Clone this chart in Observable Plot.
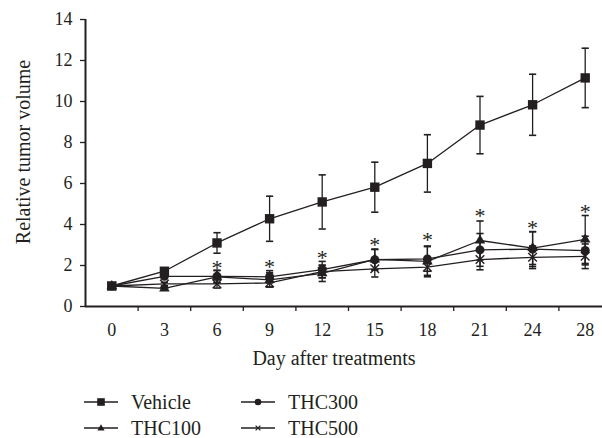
<!DOCTYPE html>
<html><head><meta charset="utf-8">
<script src="https://cdn.jsdelivr.net/npm/d3@7"></script>
<script src="https://cdn.jsdelivr.net/npm/@observablehq/plot@0.6"></script>
<style>
body{margin:0;background:#fff;}
#wrap{position:relative;width:602px;height:438px;font-family:"Liberation Serif","Times New Roman",serif;color:#231f20;}
.item{position:absolute;display:flex;align-items:center;font-size:20px;height:16px;line-height:16px;white-space:nowrap;}
.item svg{margin-right:13px;}
</style></head><body>
<div id="wrap"><div id="chart"></div><div id="legend"></div></div>
<script>
// ---- data ----
const days = ["0","3","6","9","12","15","18","21","24","28"];
const yTicks = [0,2,4,6,8,10,12,14];
const seriesNames = ["Vehicle","THC100","THC300","THC500"];
const vehicle    = [1.0, 1.72, 3.10, 4.28, 5.10, 5.82, 6.98, 8.85, 9.84, 11.15];
const vehicleErr = [0,   0.12, 0.50, 1.10, 1.32, 1.22, 1.40, 1.40, 1.49, 1.45];
const thc100     = [1.0, 0.88, 1.45, 1.30, 1.62, 2.30, 2.20, 3.22, 2.85, 3.27];
const thc100Err  = [0,   0.08, 0.30, 0.35, 0.40, 0.50, 0.75, 0.95, 0.80, 1.17];
const thc300     = [1.0, 1.47, 1.47, 1.45, 1.80, 2.28, 2.32, 2.76, 2.80, 2.73];
const thc300Err  = [0,   0.10, 0.30, 0.30, 0.40, 0.50, 0.60, 0.80, 0.85, 0.70];
const thc500     = [1.0, 1.10, 1.10, 1.15, 1.70, 1.84, 1.92, 2.29, 2.40, 2.45];
const thc500Err  = [0,   0.08, 0.20, 0.20, 0.30, 0.40, 0.40, 0.50, 0.55, 0.60];
const starY      = [null, null, 2.10, 2.16, 2.60, 3.27, 3.50, 4.68, 4.06, 4.84];

const ink = "#231f20";
const symbols = {Vehicle: "square", THC100: "triangle", THC300: "circle", THC500: "times"};
const sizes   = {Vehicle: 5.3, THC100: 3.9, THC300: 4.5, THC500: 4.0};

function rows(name, vals, errs) {
  return vals.map((v, i) => ({name, i, v, lo: v - errs[i], hi: v + errs[i], e: errs[i]}));
}
const all = {
  Vehicle: rows("Vehicle", vehicle, vehicleErr),
  THC100: rows("THC100", thc100, thc100Err),
  THC300: rows("THC300", thc300, thc300Err),
  THC500: rows("THC500", thc500, thc500Err)
};
const flat = seriesNames.flatMap(n => all[n]);
const withErr = flat.filter(d => d.e > 0);
const stars = starY.map((y, i) => ({i, y})).filter(d => d.y != null);
const idx = days.map((d, i) => i);
const bounds = d3.range(0.5, days.length - 1, 1);

// horizontal cap symbol for error bars
const cap = {draw(ctx, size) { const w = Math.sqrt(size / Math.PI); ctx.moveTo(-w, 0); ctx.lineTo(w, 0); }};

const marks = [
  Plot.ruleX(withErr, {x: "i", y1: "lo", y2: "hi", stroke: ink, strokeWidth: 1.3}),
  Plot.dot(withErr, {x: "i", y: "lo", symbol: cap, r: 3.6, fill: "none", stroke: ink, strokeWidth: 1.6}),
  Plot.dot(withErr, {x: "i", y: "hi", symbol: cap, r: 3.6, fill: "none", stroke: ink, strokeWidth: 1.6}),
  Plot.line(flat, {x: "i", y: "v", z: "name", stroke: ink, strokeWidth: 1.3})
];
for (const n of seriesNames) {
  const sym = symbols[n];
  if (sym === "times") marks.push(Plot.dot(all[n], {x: "i", y: "v", symbol: sym, r: sizes[n], stroke: ink, strokeWidth: 1.4, fill: "none"}));
  else marks.push(Plot.dot(all[n], {x: "i", y: "v", symbol: sym, r: sizes[n], fill: ink, stroke: "none"}));
}
marks.push(
  Plot.text(stars, {x: "i", y: "y", text: () => "*", fontSize: 22, dy: 5, fill: ink}),
  Plot.ruleY([0], {stroke: ink, strokeWidth: 2}),
  Plot.ruleX([-0.5], {y1: 0, y2: 14, stroke: ink, strokeWidth: 2}),
  Plot.axisY({ticks: yTicks, tickSize: 5, tickPadding: 8, label: null, fontSize: 18, stroke: ink, strokeWidth: 1.3}),
  Plot.axisX({ticks: idx, tickFormat: i => days[i], tickSize: 0, tickPadding: 17, label: null, fontSize: 18}),
  Plot.axisX({ticks: bounds, tickFormat: () => "", tickSize: 5, label: null, stroke: ink, strokeWidth: 1.3}),
  Plot.text(["Relative tumor volume"], {frameAnchor: "left", text: d => d, rotate: -90, textAnchor: "middle", lineAnchor: "middle", dx: -62, dy: -11, fontSize: 20, fill: ink}),
  Plot.text(["Day after treatments"], {frameAnchor: "bottom", text: d => d, textAnchor: "middle", lineAnchor: "middle", dx: -10, dy: 52, fontSize: 20, fill: ink})
);

const chart = Plot.plot({
  width: 602,
  height: 375,
  marginTop: 19,
  marginBottom: 69,
  marginLeft: 85,
  marginRight: 0,
  x: {domain: [-0.5, days.length - 0.5], range: [85, 611]},
  y: {domain: [0, 14], range: [306, 19]},
  style: {fontFamily: '"Liberation Serif","Times New Roman",serif', fontSize: "18px", color: ink, background: "white", overflow: "visible"},
  marks
});
document.getElementById("chart").appendChild(chart);

// ---- legend ----
const legendPos = {Vehicle: [84, 394], THC300: [241, 394], THC100: [84, 420], THC500: [241, 420]};
const swatch = {
  Vehicle: '<rect x="13.2" y="3.2" width="7.6" height="7.6" fill="' + ink + '"/>',
  THC300: '<circle cx="17" cy="7" r="3.3" fill="' + ink + '"/>',
  THC100: '<path d="M17,3.2 L20.6,9.6 L13.4,9.6 Z" fill="' + ink + '"/>',
  THC500: '<path d="M14.6,4.6 L19.4,9.4 M19.4,4.6 L14.6,9.4" stroke="' + ink + '" stroke-width="1.2"/>'
};
const leg = document.getElementById("legend");
for (const n of seriesNames) {
  const [x, y] = legendPos[n];
  const div = document.createElement("div");
  div.className = "item";
  div.style.left = x + "px";
  div.style.top = y + "px";
  div.innerHTML = '<svg width="34" height="14" viewBox="0 0 34 14"><line x1="0" y1="7" x2="34" y2="7" stroke="' + ink + '" stroke-width="1.5"/>' + swatch[n] + '</svg><span>' + n + '</span>';
  leg.appendChild(div);
}
</script>
</body></html>
